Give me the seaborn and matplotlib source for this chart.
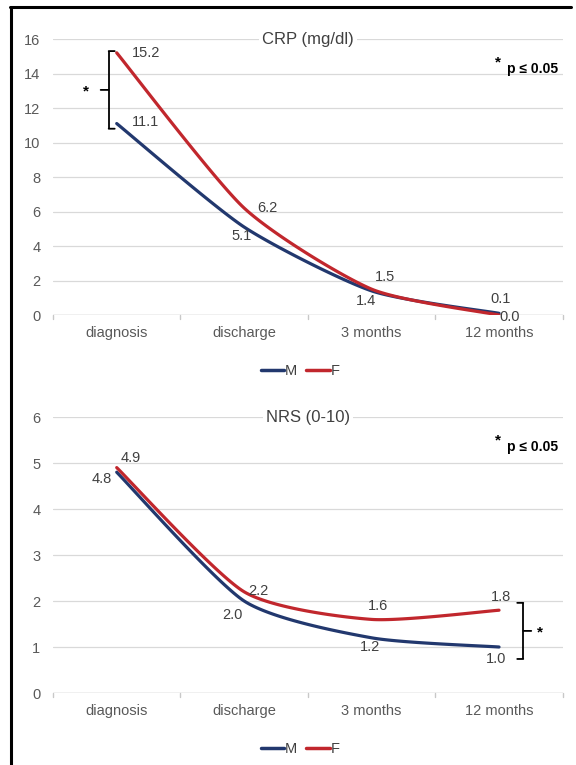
import numpy as np
import pandas as pd
import matplotlib
matplotlib.use("Agg")
import matplotlib.pyplot as plt
from matplotlib.lines import Line2D
import matplotlib.transforms as mtransforms
import seaborn as sns

# ---- data ----
timepoints = ["diagnosis", "discharge", "3 months", "12 months"]
crp_m = [11.1, 5.1, 1.4, 0.1]
crp_f = [15.2, 6.2, 1.5, 0.0]
nrs_m = [4.8, 2.0, 1.2, 1.0]
nrs_f = [4.9, 2.2, 1.6, 1.8]
crp_ticks = [0, 2, 4, 6, 8, 10, 12, 14, 16]
nrs_ticks = [0, 1, 2, 3, 4, 5, 6]

COL_M = "#22386e"
COL_F = "#c1272d"
TXT = "#595959"
LBL = "#404040"
FONT = "Liberation Sans"

sns.set_theme(style="white")
plt.rcParams["font.family"] = [FONT, "DejaVu Sans"]


def smooth(values, n=40, k=1 / 9):
    """Light Bezier smoothing of a series on an evenly spaced x grid."""
    y = np.asarray(values, float)
    x = np.arange(len(y), dtype=float)
    P = np.column_stack([x, y])
    Pext = np.vstack([P[0], P, P[-1]])
    xs, ys = [], []
    t = np.linspace(0, 1, n)
    for i in range(len(P) - 1):
        p0, p1, p2, p3 = Pext[i], Pext[i + 1], Pext[i + 2], Pext[i + 3]
        c1 = p1 + (p2 - p0) * k
        c2 = p2 - (p3 - p1) * k
        b = ((1 - t) ** 3)[:, None] * p1 + (3 * (1 - t) ** 2 * t)[:, None] * c1 \
            + (3 * (1 - t) * t ** 2)[:, None] * c2 + (t ** 3)[:, None] * p2
        if i > 0:
            b = b[1:]
        xs.append(b[:, 0])
        ys.append(b[:, 1])
    return np.concatenate(xs), np.concatenate(ys)


def draw_panel(ax, title, m_vals, f_vals, ticks, m_off, f_off, bracket):
    frames = []
    for name, vals in (("M", m_vals), ("F", f_vals)):
        sx, sy = smooth(vals)
        frames.append(pd.DataFrame({"x": sx, "y": sy, "sex": name}))
    df = pd.concat(frames, ignore_index=True)
    sns.lineplot(data=df, x="x", y="y", hue="sex", palette={"M": COL_M, "F": COL_F},
                 sort=False, estimator=None, linewidth=2.3, legend=False, ax=ax)

    ax.set_xlim(-0.5, len(timepoints) - 0.5)
    ax.set_ylim(ticks[0], ticks[-1])
    ax.set_yticks(ticks)
    ax.set_yticklabels([str(t) for t in ticks], color=TXT, fontsize=10.5)
    ax.set_xticks(range(len(timepoints)))
    ax.set_xticklabels(timepoints, color=TXT, fontsize=10.5)
    ax.tick_params(axis="x", length=0, pad=8)
    ax.tick_params(axis="y", length=0, pad=9)
    ax.set_xlabel("")
    ax.set_ylabel("")
    for s in ax.spines.values():
        s.set_visible(False)
    ax.grid(axis="y", color="#d9d9d9", linewidth=0.9)
    ax.set_axisbelow(True)
    # baseline with category separators
    ax.axhline(ticks[0], color="#c8c8c8", linewidth=1.0, zorder=1)
    trans = mtransforms.blended_transform_factory(ax.transData, ax.transAxes)
    for b in np.arange(-0.5, len(timepoints), 1.0):
        ax.plot([b, b], [0, -0.015], color="#c8c8c8", linewidth=1.0,
                transform=trans, clip_on=False)

    ax.text(0.5, 1.0, title, transform=ax.transAxes, ha="center", va="center",
            fontsize=12, color=LBL,
            bbox=dict(facecolor="white", edgecolor="none", pad=2))

    # value labels
    for vals, offs in ((m_vals, m_off), (f_vals, f_off)):
        for i, (v, (dx, dy)) in enumerate(zip(vals, offs)):
            ax.annotate(f"{v:.1f}", (i, v), xytext=(dx, dy), textcoords="offset pixels",
                        ha="center", va="center", fontsize=10.5, color=LBL)

    # significance note
    ax.text(0.872, 0.915, "*", transform=ax.transAxes, ha="center", va="center",
            fontsize=11, fontweight="bold", color="black")
    ax.text(0.99, 0.893, "p \u2264 0.05", transform=ax.transAxes, ha="right",
            va="center", fontsize=10, fontweight="bold", color="black")

    # bracket marking a significant difference
    bx, y_top, y_bot, direction, cap, star_gap = bracket
    ymid = (y_top + y_bot) / 2
    lw = 1.3
    ax.plot([bx, bx], [y_bot, y_top], color="black", lw=lw, clip_on=False,
            solid_capstyle="butt")
    for yy in (y_top, y_bot):
        ax.annotate("", xy=(bx, yy), xytext=(-direction * cap, 0),
                    textcoords="offset pixels",
                    arrowprops=dict(arrowstyle="-", lw=lw, color="black",
                                    shrinkA=0, shrinkB=0))
    ax.annotate("", xy=(bx, ymid), xytext=(direction * 8, 0), textcoords="offset pixels",
                arrowprops=dict(arrowstyle="-", lw=lw, color="black", shrinkA=0, shrinkB=0))
    ax.annotate("*", (bx, ymid), xytext=(direction * star_gap, -2), textcoords="offset pixels",
                ha="center", va="center", fontsize=11, fontweight="bold", color="black")


fig = plt.figure(figsize=(5.76, 7.65), dpi=100)
ax1 = fig.add_axes([0.092, 0.5882, 0.885, 0.3608])
ax2 = fig.add_axes([0.092, 0.0941, 0.885, 0.3608])

crp_m_off = [(29, 2), (-3, -9), (-6, -10), (2, 14)]
crp_f_off = [(29, 0), (23, 0), (13, 12), (11, -2)]
draw_panel(ax1, "CRP (mg/dl)", crp_m, crp_f, crp_ticks, crp_m_off, crp_f_off,
           (-0.063, crp_f[0] + 0.1, crp_m[0] - 0.3, -1, 6, 23))

nrs_m_off = [(-15, -7), (-12, -14), (-2, -9), (-3, -12)]
nrs_f_off = [(14, 10), (14, 1), (6, 13), (2, 13)]
draw_panel(ax2, "NRS (0-10)", nrs_m, nrs_f, nrs_ticks, nrs_m_off, nrs_f_off,
           (3.19, nrs_f[-1] + 0.16, nrs_m[-1] - 0.26, 1, 6, 17))

# legends below each panel
handles = [Line2D([], [], color=COL_M, lw=2.5), Line2D([], [], color=COL_F, lw=2.5)]
for ax in (ax1, ax2):
    leg = ax.legend(handles, ["M", "F"], loc="upper center", bbox_to_anchor=(0.485, -0.13),
                    ncol=2, frameon=False, handlelength=1.6, handletextpad=0.05,
                    columnspacing=0.6, fontsize=10.5)
    for t in leg.get_texts():
        t.set_color(LBL)

# outer frame lines (left and top)
fig.add_artist(Line2D([11 / 576, 11 / 576], [0, 1 - 7 / 765], color="black", lw=2.2,
                      transform=fig.transFigure))
fig.add_artist(Line2D([10 / 576, 571 / 576], [1 - 7 / 765, 1 - 7 / 765], color="black",
                      lw=2.2, transform=fig.transFigure))

fig.savefig("out.png", dpi=100)
